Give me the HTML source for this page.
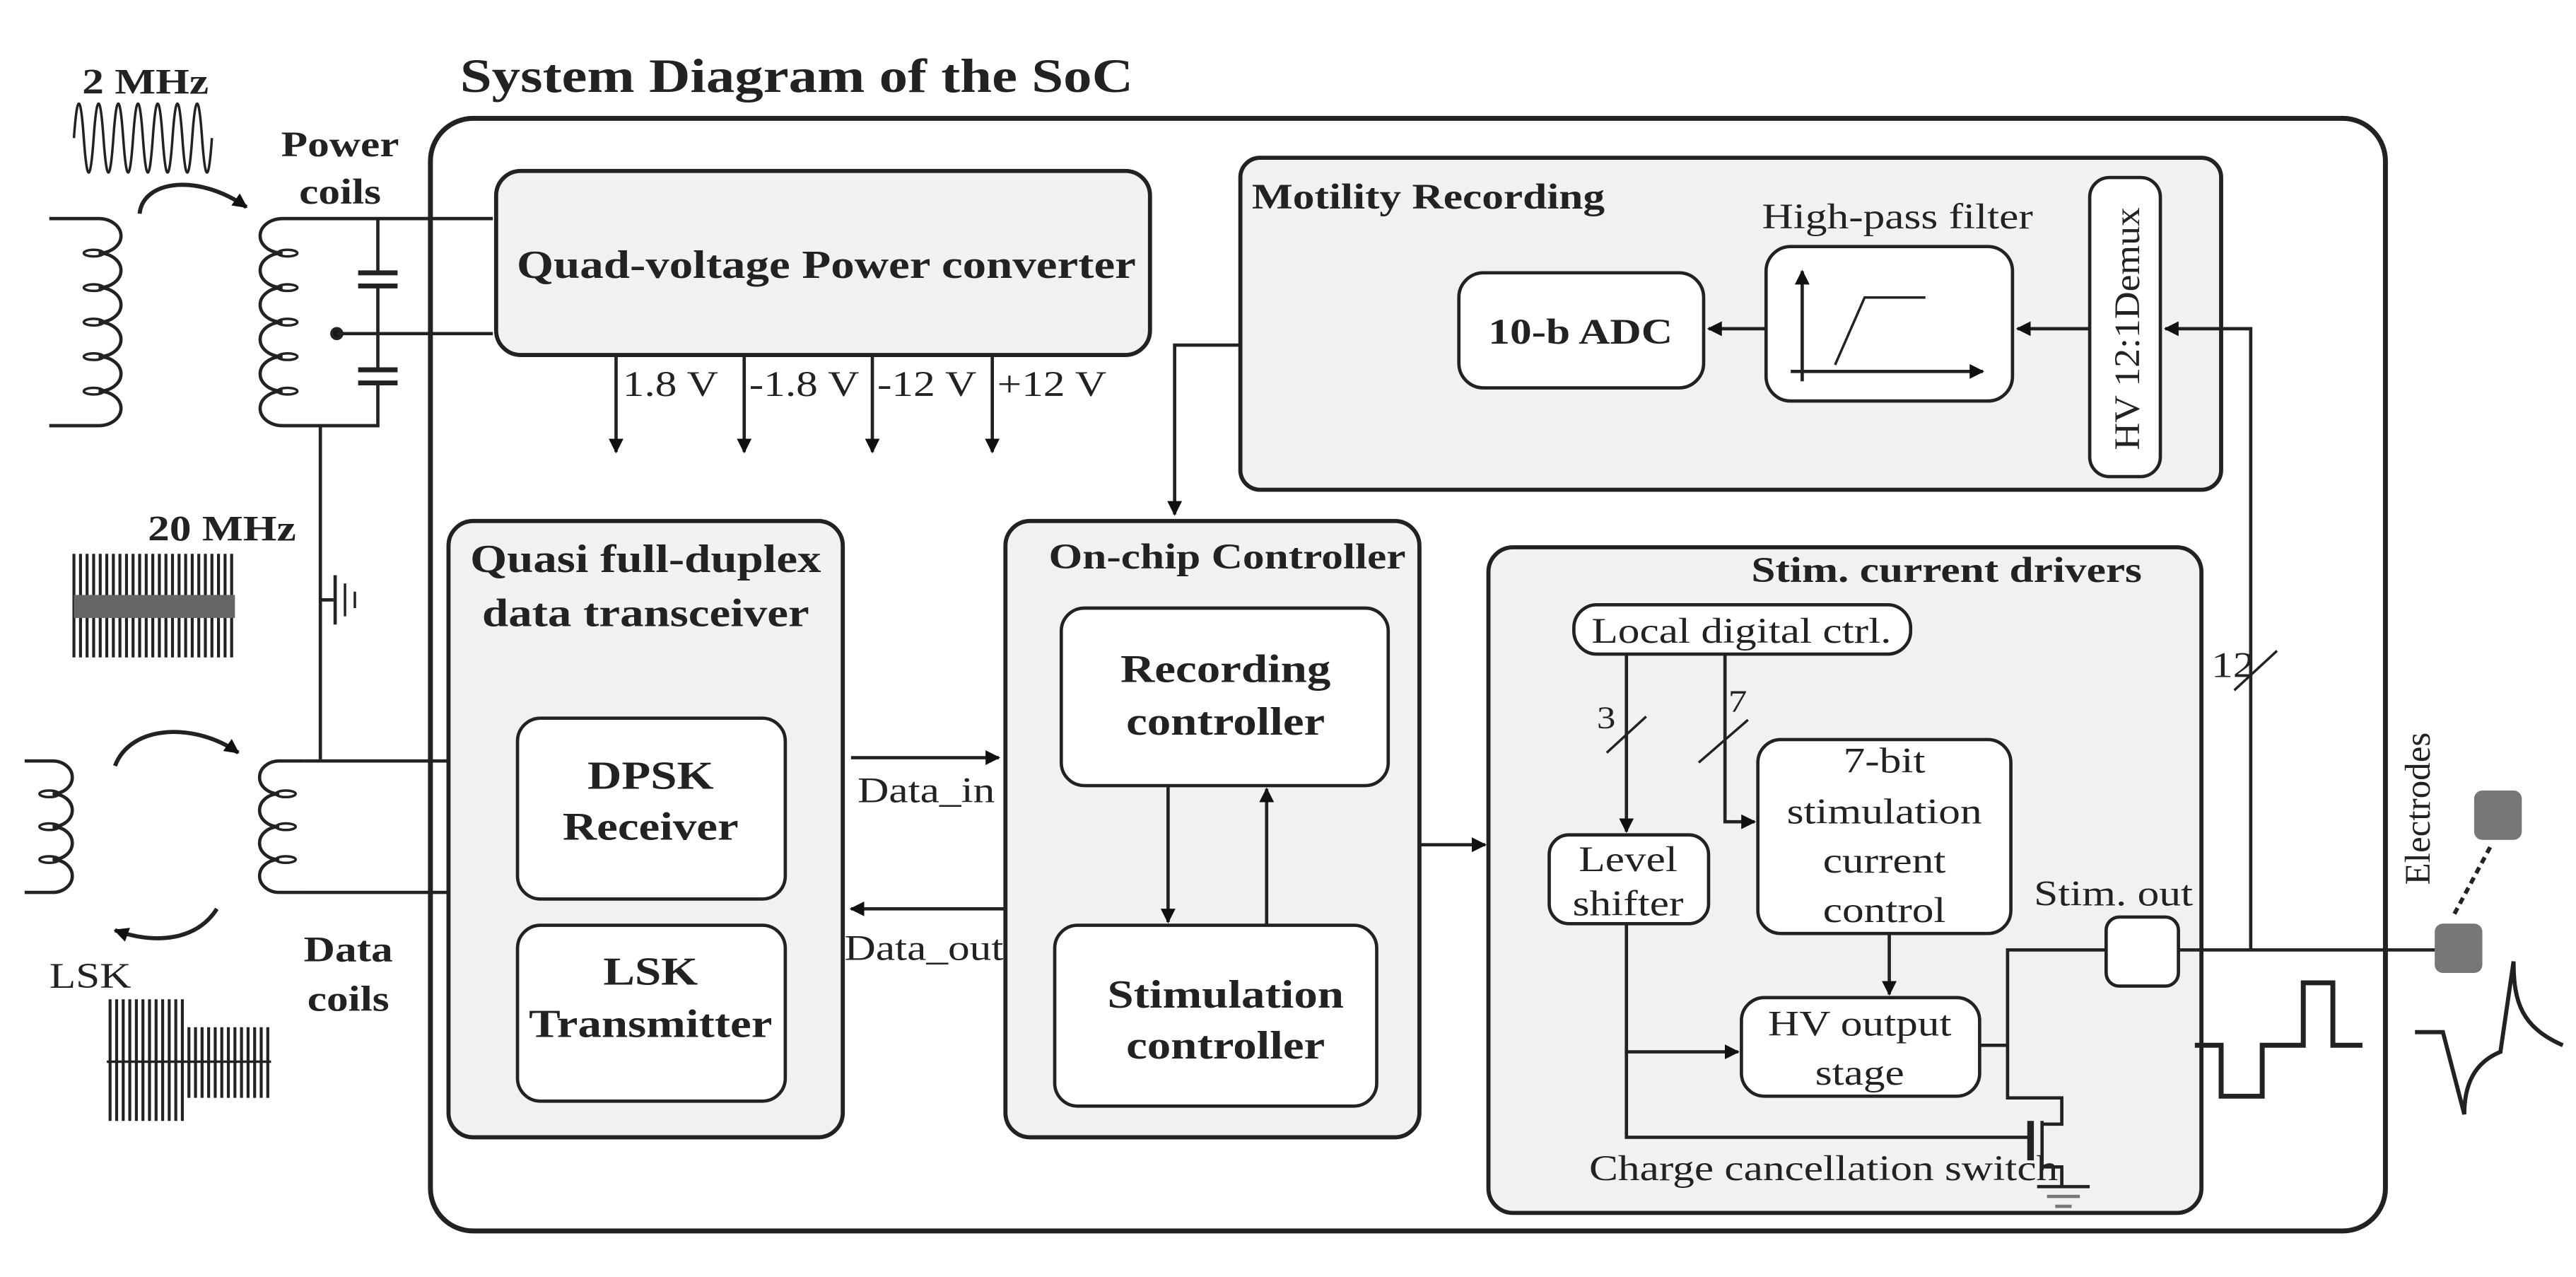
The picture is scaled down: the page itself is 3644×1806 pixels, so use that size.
<!DOCTYPE html>
<html><head><meta charset="utf-8"><style>
html,body{margin:0;padding:0;background:#fff}
svg{display:block}
text{font-family:"Liberation Serif",serif;fill:#222;stroke:none}
text:not(.r){transform-box:fill-box;transform-origin:left center;transform:scaleX(1.2)}
text[text-anchor=middle]:not(.r){transform-origin:center center}
.b{font-weight:bold;font-size:24px}
.n{font-size:22px}
</style></head><body>
<svg width="3644" height="1806" viewBox="0 0 1568 777" preserveAspectRatio="none" xmlns="http://www.w3.org/2000/svg">
<defs>
<marker id="ar" viewBox="0 0 10 10" refX="9" refY="5" markerWidth="9" markerHeight="9" markerUnits="userSpaceOnUse" orient="auto"><path d="M0,0L10,5L0,10z" fill="#111"/></marker>
</defs>
<g stroke="#222" fill="none" stroke-width="2">
<text x="280" y="56" class="b" style="font-size:29px">System Diagram of the SoC</text>
<rect x="262" y="72" width="1190" height="677" rx="26" stroke-width="3"/>

<rect x="302" y="104" width="398" height="112" rx="15" fill="#f1f1f1" stroke-width="2.5"/>
<text x="503" y="169" class="b" text-anchor="middle">Quad-voltage Power converter</text>
<line x1="375" y1="216" x2="375" y2="275" marker-end="url(#ar)"/>
<line x1="453" y1="216" x2="453" y2="275" marker-end="url(#ar)"/>
<line x1="531" y1="216" x2="531" y2="275" marker-end="url(#ar)"/>
<line x1="604" y1="216" x2="604" y2="275" marker-end="url(#ar)"/>
<text x="379" y="241" class="n">1.8 V</text>
<text x="456" y="241" class="n">-1.8 V</text>
<text x="534" y="241" class="n">-12 V</text>
<text x="607" y="241" class="n">+12 V</text>

<rect x="755" y="96" width="597" height="202" rx="12" fill="#f1f1f1" stroke-width="2.5"/>
<text x="762" y="127" class="b" style="font-size:22px">Motility Recording</text>
<rect x="888" y="166" width="149" height="70" rx="15" fill="#fff"/>
<text x="962" y="209" class="b" text-anchor="middle" style="font-size:22px">10-b ADC</text>
<text x="1155" y="139" class="n" text-anchor="middle">High-pass filter</text>
<rect x="1075" y="150" width="150" height="94" rx="15" fill="#fff"/>
<line x1="1097" y1="232" x2="1097" y2="165" marker-end="url(#ar)"/>
<line x1="1090" y1="226" x2="1207" y2="226" marker-end="url(#ar)"/>
<path d="M1117,222 L1135,181 H1172" stroke-width="1.5"/>
<line x1="1075" y1="200" x2="1040" y2="200" marker-end="url(#ar)"/>
<rect x="1272" y="108" width="43" height="182" rx="12" fill="#fff"/>
<text class="r n" transform="translate(1302,200) rotate(-90) scale(1.05,1)" text-anchor="middle">HV 12:1Demux</text>
<line x1="1272" y1="200" x2="1228" y2="200" marker-end="url(#ar)"/>
<path d="M1370,578 V200 H1318" marker-end="url(#ar)"/>
<line x1="1360" y1="420" x2="1386" y2="396" stroke-width="1.5"/>
<text x="1346" y="412" class="n">12</text>
<path d="M755,210 H715 V313" marker-end="url(#ar)"/>

<rect x="273" y="317" width="240" height="375" rx="15" fill="#f1f1f1" stroke-width="2.5"/>
<text x="393" y="348" class="b" text-anchor="middle">Quasi full-duplex</text>
<text x="393" y="381" class="b" text-anchor="middle">data transceiver</text>
<rect x="315" y="437" width="163" height="110" rx="14" fill="#fff"/>
<text x="396" y="480" class="b" text-anchor="middle">DPSK</text>
<text x="396" y="511" class="b" text-anchor="middle">Receiver</text>
<rect x="315" y="563" width="163" height="107" rx="14" fill="#fff"/>
<text x="396" y="599" class="b" text-anchor="middle">LSK</text>
<text x="396" y="631" class="b" text-anchor="middle">Transmitter</text>

<rect x="612" y="317" width="252" height="375" rx="15" fill="#f1f1f1" stroke-width="2.5"/>
<text x="747" y="346" class="b" text-anchor="middle" style="font-size:22px">On-chip Controller</text>
<rect x="646" y="370" width="199" height="108" rx="14" fill="#fff"/>
<text x="746" y="415" class="b" text-anchor="middle">Recording</text>
<text x="746" y="447" class="b" text-anchor="middle">controller</text>
<rect x="642" y="563" width="196" height="110" rx="14" fill="#fff"/>
<text x="746" y="613" class="b" text-anchor="middle">Stimulation</text>
<text x="746" y="644" class="b" text-anchor="middle">controller</text>
<line x1="711" y1="478" x2="711" y2="561" marker-end="url(#ar)"/>
<line x1="771" y1="563" x2="771" y2="480" marker-end="url(#ar)"/>
<line x1="518" y1="461" x2="608" y2="461" marker-end="url(#ar)"/>
<text x="522" y="488" class="n">Data_in</text>
<line x1="612" y1="553" x2="518" y2="553" marker-end="url(#ar)"/>
<text x="514" y="584" class="n">Data_out</text>
<line x1="864" y1="514" x2="904" y2="514" marker-end="url(#ar)"/>

<rect x="906" y="333" width="434" height="405" rx="15" fill="#f1f1f1" stroke-width="2.5"/>
<text x="1066" y="354" class="b" style="font-size:22px">Stim. current drivers</text>
<rect x="958" y="368" width="205" height="30" rx="14" fill="#fff"/>
<text x="1060" y="391" class="n" text-anchor="middle">Local digital ctrl.</text>
<line x1="990" y1="398" x2="990" y2="506" marker-end="url(#ar)"/>
<line x1="978" y1="458" x2="1002" y2="436" stroke-width="1.5"/>
<text x="972" y="443" class="n" style="font-size:19px">3</text>
<path d="M1050,398 V500 H1068" marker-end="url(#ar)"/>
<line x1="1034" y1="464" x2="1064" y2="438" stroke-width="1.5"/>
<text x="1052" y="433" class="n" style="font-size:19px">7</text>
<rect x="1070" y="450" width="154" height="118" rx="14" fill="#fff"/>
<text x="1147" y="470" class="n" text-anchor="middle">7-bit</text>
<text x="1147" y="501" class="n" text-anchor="middle">stimulation</text>
<text x="1147" y="531" class="n" text-anchor="middle">current</text>
<text x="1147" y="561" class="n" text-anchor="middle">control</text>
<rect x="943" y="508" width="97" height="54" rx="12" fill="#fff"/>
<text x="991" y="530" class="n" text-anchor="middle">Level</text>
<text x="991" y="557" class="n" text-anchor="middle">shifter</text>
<line x1="1150" y1="568" x2="1150" y2="605" marker-end="url(#ar)"/>
<rect x="1060" y="607" width="145" height="60" rx="14" fill="#fff"/>
<text x="1132" y="630" class="n" text-anchor="middle">HV output</text>
<text x="1132" y="660" class="n" text-anchor="middle">stage</text>
<path d="M990,562 V640 H1058" marker-end="url(#ar)"/>
<path d="M990,640 V692 H1236"/>
<text x="1110" y="718" class="n" text-anchor="middle">Charge cancellation switch</text>
<line x1="1236" y1="682" x2="1236" y2="706" stroke-width="4"/>
<path d="M1243,682 V712"/>
<path d="M1243,684 H1255 V668 H1222 V578 H1282"/>
<path d="M1205,636 H1222"/>
<path d="M1243,710 H1255 V722"/>
<line x1="1240" y1="722" x2="1272" y2="722"/>
<line x1="1246" y1="728" x2="1266" y2="728" stroke="#777"/>
<line x1="1251" y1="734" x2="1261" y2="734" stroke="#777"/>
<rect x="1282" y="558" width="44" height="42" rx="8" fill="#fff"/>
<text x="1238" y="551" class="n">Stim. out</text>
<line x1="1326" y1="578" x2="1482" y2="578"/>

<path d="M1336,636 H1352 V667 H1377 V636 H1402 V598 H1420 V636 H1438" stroke-width="3"/>
<path d="M1470,628 H1487 L1500,678 C1500,655 1510,645 1522,640 L1530,585 C1530,610 1535,625 1560,636" stroke-width="2.5"/>
<rect x="1482" y="562" width="29" height="30" rx="5" fill="#777" stroke="none"/>
<rect x="1506" y="481" width="29" height="30" rx="5" fill="#777" stroke="none"/>
<line x1="1494" y1="556" x2="1516" y2="515" stroke-dasharray="4,3" stroke-width="2.5"/>
<text class="r n" transform="translate(1479,492) rotate(-90)" text-anchor="middle">Electrodes</text>

<text x="50" y="57" class="b" style="font-size:22px">2 MHz</text>
<path d="M45,84 q3,-42 6,0 q3,42 6,0 q3,-42 6,0 q3,42 6,0 q3,-42 6,0 q3,42 6,0 q3,-42 6,0 q3,42 6,0 q3,-42 6,0 q3,42 6,0 q3,-42 6,0 q3,42 6,0 q3,-42 6,0 q3,42 6,0" stroke-width="1.5"/>
<path d="M85,130 C87,110 120,105 150,126" stroke-width="2.5" marker-end="url(#ar)"/>
<text x="207" y="95" class="b" text-anchor="middle" style="font-size:22px">Power</text>
<text x="207" y="124" class="b" text-anchor="middle" style="font-size:22px">coils</text>
<path d="M30,133 H60 a13,10 0 0 1 0,21 a13,10 0 0 1 0,21 a13,10 0 0 1 0,21 a13,10 0 0 1 0,21 a13,10 0 0 1 0,21 a13,10 0 0 1 0,21 H30"/>
<g stroke-width="1.5"><ellipse cx="57" cy="154" rx="6" ry="2"/><ellipse cx="57" cy="175" rx="6" ry="2"/><ellipse cx="57" cy="196" rx="6" ry="2"/><ellipse cx="57" cy="217" rx="6" ry="2"/><ellipse cx="57" cy="238" rx="6" ry="2"/></g>
<path d="M185,133 H172 a13,10 0 0 0 0,21 a13,10 0 0 0 0,21 a13,10 0 0 0 0,21 a13,10 0 0 0 0,21 a13,10 0 0 0 0,21 a13,10 0 0 0 0,21 H230 V233"/>
<g stroke-width="1.5"><ellipse cx="175" cy="154" rx="6" ry="2"/><ellipse cx="175" cy="175" rx="6" ry="2"/><ellipse cx="175" cy="196" rx="6" ry="2"/><ellipse cx="175" cy="217" rx="6" ry="2"/><ellipse cx="175" cy="238" rx="6" ry="2"/></g>
<path d="M185,133 H300 M230,133 V166 M230,174 V224" />
<line x1="218" y1="166" x2="242" y2="166" stroke-width="3"/>
<line x1="218" y1="174" x2="242" y2="174" stroke-width="3"/>
<line x1="218" y1="225" x2="242" y2="225" stroke-width="3"/>
<line x1="218" y1="233" x2="242" y2="233" stroke-width="3"/>
<circle cx="205" cy="203" r="3" fill="#111"/>
<line x1="205" y1="203" x2="300" y2="203"/>
<line x1="195" y1="259" x2="195" y2="462"/>
<path d="M195,365 H203"/>
<line x1="204" y1="350" x2="204" y2="380" stroke-width="2"/>
<line x1="210" y1="355" x2="210" y2="375" stroke-width="1.5"/>
<line x1="216" y1="360" x2="216" y2="370" stroke-width="1.5"/>

<text x="90" y="329" class="b" style="font-size:22px">20 MHz</text>
<path d="M45,337 V400 M49,337 V400 M53,337 V400 M57,337 V400 M61,337 V400 M65,337 V400 M69,337 V400 M73,337 V400 M77,337 V400 M81,337 V400 M85,337 V400 M89,337 V400 M93,337 V400 M97,337 V400 M101,337 V400 M105,337 V400 M109,337 V400 M113,337 V400 M117,337 V400 M121,337 V400 M125,337 V400 M129,337 V400 M133,337 V400 M137,337 V400 M141,337 V400" stroke-width="1.8"/>
<rect x="45" y="362" width="98" height="14" fill="#666" stroke="none"/>
<path d="M70,466 C80,440 120,440 145,458" stroke-width="2.5" marker-end="url(#ar)"/>
<path d="M132,553 C120,572 95,575 70,566" stroke-width="2.5" marker-end="url(#ar)"/>
<path d="M15,463 H32 a12,10 0 0 1 0,20 a12,10 0 0 1 0,20 a12,10 0 0 1 0,20 a12,10 0 0 1 0,20 H15"/>
<path d="M185,463 H170 a12,10 0 0 0 0,20 a12,10 0 0 0 0,20 a12,10 0 0 0 0,20 a12,10 0 0 0 0,20 H185"/>
<g stroke-width="1.5"><ellipse cx="30" cy="483" rx="6" ry="2"/><ellipse cx="30" cy="503" rx="6" ry="2"/><ellipse cx="30" cy="523" rx="6" ry="2"/><ellipse cx="174" cy="483" rx="6" ry="2"/><ellipse cx="174" cy="503" rx="6" ry="2"/><ellipse cx="174" cy="523" rx="6" ry="2"/></g>
<path d="M185,463 H273 M185,543 H273"/>
<text x="212" y="585" class="b" text-anchor="middle" style="font-size:22px">Data</text>
<text x="212" y="615" class="b" text-anchor="middle" style="font-size:22px">coils</text>
<text x="30" y="601" class="n">LSK</text>
<path d="M67,608 V682 M71,608 V682 M75,608 V682 M79,608 V682 M83,608 V682 M87,608 V682 M91,608 V682 M95,608 V682 M99,608 V682 M103,608 V682 M107,608 V682 M111,608 V682 M115,625 V668 M119,625 V668 M123,625 V668 M127,625 V668 M131,625 V668 M135,625 V668 M139,625 V668 M143,625 V668 M147,625 V668 M151,625 V668 M155,625 V668 M159,625 V668 M163,625 V668" stroke-width="1.8"/>
<line x1="65" y1="646" x2="165" y2="646" stroke-width="1.5"/>
</g>
</svg>
</body></html>
